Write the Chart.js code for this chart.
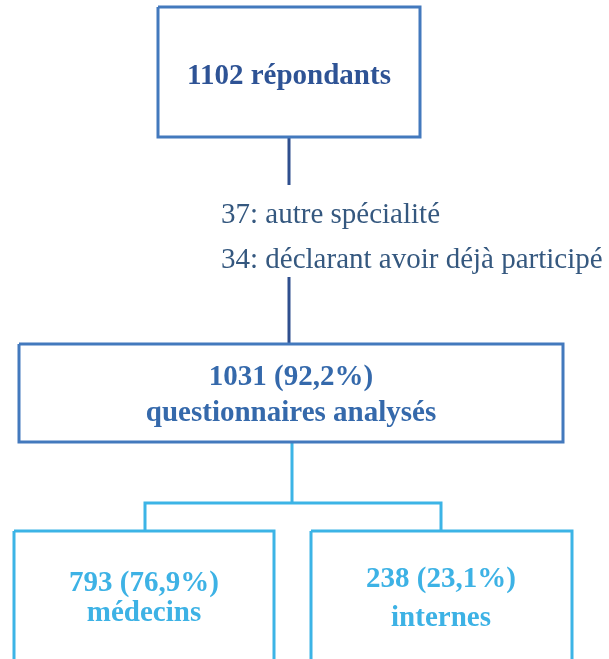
<!DOCTYPE html>
<html>
<head>
<meta charset="utf-8">
<script src="https://cdn.jsdelivr.net/npm/chart.js@4/dist/chart.umd.min.js"></script>
<style>
  html, body { margin: 0; padding: 0; background: #fff; }
  canvas { display: block; }
</style>
</head>
<body>
<canvas id="flow" width="609" height="659"></canvas>
<script>
// data
const counts = [1102, 1031, 793, 238];
const shares = ['92,2%', '76,9%', '23,1%'];
const nodeLabels = ['répondants', 'questionnaires analysés', 'médecins', 'internes'];
const excludedCounts = [37, 34];
const excludedLabels = ['autre spécialité', 'déclarant avoir déjà participé'];

// layout (canvas units)
const layout = {
  boxes: [
    { l: 158, t: 7, r: 420, b: 137 },
    { l: 19, t: 344, r: 563, b: 442 },
    { l: 14, t: 531, r: 274, b: 690 },
    { l: 311, t: 531, r: 572, b: 690 }
  ],
  darkLinks: [
    [[289, 137], [289, 185]],
    [[289, 277], [289, 344]]
  ],
  lightLinks: [
    [[292, 442], [292, 503]],
    [[145, 531], [145, 503], [441, 503], [441, 531]]
  ]
};

const boxBlue = '#4379bd';
const navy = '#2f4f8e';
const light = '#3cb4e6';

const boxPath = b => [
  { x: b.l, y: b.t }, { x: b.r, y: b.t }, { x: b.r, y: b.b },
  { x: b.l, y: b.b }, { x: b.l, y: b.t }
];
const linePath = pts => pts.map(p => ({ x: p[0], y: p[1] }));

const lineStyle = (color) => ({
  showLine: true,
  borderColor: color,
  borderWidth: 3,
  pointRadius: 0,
  fill: false,
  tension: 0,
  borderJoinStyle: 'miter',
  borderCapStyle: 'butt'
});

const datasets = [];
layout.boxes.forEach((b, i) => {
  datasets.push({ data: boxPath(b), ...lineStyle(i < 2 ? boxBlue : light) });
});
layout.darkLinks.forEach(l => datasets.push({ data: linePath(l), ...lineStyle(navy) }));
layout.lightLinks.forEach(l => datasets.push({ data: linePath(l), ...lineStyle(light) }));

// texts placed through the scales
const texts = [
  { x: 289, y: 84, s: counts[0] + ' ' + nodeLabels[0], c: '#2e5395', bold: true },
  { x: 291, y: 385, s: counts[1] + ' (' + shares[0] + ')', c: '#3569ab', bold: true },
  { x: 291, y: 421, s: nodeLabels[1], c: '#3569ab', bold: true },
  { x: 144, y: 591, s: counts[2] + ' (' + shares[1] + ')', c: '#3db2e5', bold: true },
  { x: 144, y: 621, s: nodeLabels[2], c: '#3db2e5', bold: true },
  { x: 441, y: 587, s: counts[3] + ' (' + shares[2] + ')', c: '#3db2e5', bold: true },
  { x: 441, y: 626, s: nodeLabels[3], c: '#3db2e5', bold: true },
  { x: 221, y: 223, s: excludedCounts[0] + ': ' + excludedLabels[0], c: '#35587f', bold: false, left: true },
  { x: 221, y: 268, s: excludedCounts[1] + ': ' + excludedLabels[1], c: '#35587f', bold: false, left: true }
];

const textPlugin = {
  id: 'flowText',
  beforeDraw(chart) {
    const ctx = chart.ctx;
    ctx.save();
    ctx.fillStyle = '#ffffff';
    ctx.fillRect(0, 0, chart.width, chart.height);
    ctx.restore();
  },
  afterDatasetsDraw(chart) {
    const ctx = chart.ctx;
    const xs = chart.scales.x, ys = chart.scales.y;
    ctx.save();
    texts.forEach(t => {
      ctx.font = (t.bold ? 'bold 29px' : '29px') + ' "Liberation Serif", "DejaVu Serif", serif';
      ctx.fillStyle = t.c;
      ctx.textAlign = t.left ? 'left' : 'center';
      ctx.textBaseline = 'alphabetic';
      ctx.fillText(t.s, xs.getPixelForValue(t.x), ys.getPixelForValue(t.y));
    });
    ctx.restore();
  }
};

new Chart(document.getElementById('flow').getContext('2d'), {
  type: 'scatter',
  data: { datasets },
  options: {
    responsive: false,
    animation: false,
    devicePixelRatio: 1,
    layout: { padding: 0 },
    plugins: { legend: { display: false }, tooltip: { enabled: false } },
    scales: {
      x: { type: 'linear', min: 0, max: 609, display: false },
      y: { type: 'linear', min: 0, max: 659, reverse: true, display: false }
    }
  },
  plugins: [textPlugin]
});
</script>
</body>
</html>
